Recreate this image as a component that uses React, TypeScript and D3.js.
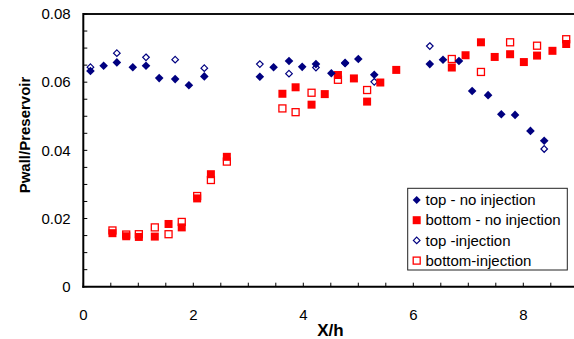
import React from "react";
import * as d3 from "d3";

// Station positions (X/h) and pressure ratios for each series
const topX = [0.13, 0.37, 0.61, 0.90, 1.14, 1.38, 1.67, 1.92, 2.20, 3.21, 3.46, 3.74, 3.98, 4.23, 4.51, 4.76, 5.00, 5.29, 6.30, 6.54, 6.83, 7.07, 7.36, 7.60, 7.85, 8.13, 8.38];
const topNoInj = [0.0633, 0.0648, 0.0658, 0.0644, 0.0648, 0.0612, 0.0609, 0.0591, 0.0617, 0.0616, 0.0644, 0.0662, 0.0645, 0.0653, 0.0626, 0.0657, 0.0668, 0.0622, 0.0653, 0.0666, 0.0662, 0.0574, 0.0562, 0.0506, 0.0504, 0.0457, 0.0428];

const bottomX = [0.53, 0.78, 1.01, 1.30, 1.55, 1.79, 2.07, 2.32, 2.61, 3.62, 3.86, 4.15, 4.39, 4.63, 4.92, 5.16, 5.40, 5.69, 6.70, 6.95, 7.23, 7.48, 7.76, 8.01, 8.25, 8.53, 8.78];
const bottomNoInj = [0.0157, 0.0148, 0.0146, 0.0147, 0.0184, 0.0174, 0.0259, 0.0330, 0.0381, 0.0566, 0.0585, 0.0534, 0.0565, 0.0621, 0.0611, 0.0543, 0.0599, 0.0636, 0.0643, 0.0679, 0.0717, 0.0674, 0.0682, 0.0659, 0.0678, 0.0692, 0.0712];

const topInjX = [0.13, 0.61, 1.14, 1.67, 2.20, 3.21, 3.74, 4.23, 4.76, 5.29, 6.30, 8.38];
const topInj = [0.0644, 0.0685, 0.0673, 0.0666, 0.0641, 0.0653, 0.0625, 0.0643, 0.0655, 0.0601, 0.0706, 0.0404];

const bottomInjX = [0.53, 0.78, 1.01, 1.30, 1.55, 1.79, 2.07, 2.32, 2.61, 3.62, 3.86, 4.15, 4.63, 5.16, 6.70, 7.23, 7.76, 8.25, 8.78];
const bottomInj = [0.0165, 0.0153, 0.0154, 0.0174, 0.0154, 0.0190, 0.0266, 0.0313, 0.0367, 0.0523, 0.0512, 0.0569, 0.0607, 0.0577, 0.0668, 0.0630, 0.0717, 0.0707, 0.0726];

const xTickLabels = [0, 2, 4, 6, 8];
const yTickLabels = [0, 0.02, 0.04, 0.06, 0.08];
const legendLabels = ["top - no injection", "bottom - no injection", "top -injection", "bottom-injection"];

const NAVY = "#000080";
const RED = "#ff0000";
const FONT = "'Liberation Sans', Arial, sans-serif";

const left = 83.3;
const top = 14;
const bottom = 286.7;
const x = d3.scaleLinear().domain([0, 9]).range([left, left + 9 * 55]);
const y = d3.scaleLinear().domain([0, 0.08]).range([bottom, top]);

const diamond = (cx: number, cy: number, r: number) =>
  `M${cx},${cy - r}L${cx + r},${cy}L${cx},${cy + r}L${cx - r},${cy}Z`;

export default function App() {
  const xMinor = d3.range(0, 9.01, 0.5);
  const yMinor = d3.range(0, 0.0801, 0.005);

  const legendMarker = (i: number, cx: number, cy: number) => {
    if (i === 0) return <path d={diamond(cx, cy, 4)} fill={NAVY} />;
    if (i === 1) return <rect x={cx - 4} y={cy - 4} width={8} height={8} fill={RED} />;
    if (i === 2) return <path d={diamond(cx, cy, 3.3)} fill="#fff" stroke={NAVY} strokeWidth={1.2} />;
    return <rect x={cx - 3.5} y={cy - 3.5} width={7} height={7} fill="#fff" stroke={RED} strokeWidth={1.3} />;
  };

  return (
    <svg
      width={574}
      height={339}
      style={{ position: "absolute", left: 0, top: 0, background: "#fff" }}
      fontFamily={FONT}
    >
      {/* frame */}
      <line x1={left} x2={x(9)} y1={top} y2={top} stroke="#111" strokeWidth={2} />
      <line x1={left} x2={left} y1={top - 1} y2={bottom + 1} stroke="#000" strokeWidth={2} />
      <line x1={left - 1} x2={x(9)} y1={bottom} y2={bottom} stroke="#000" strokeWidth={2} />

      {/* ticks */}
      {yMinor.map((v, i) => (
        <line key={"yt" + i} x1={left} x2={left + 4} y1={y(v)} y2={y(v)} stroke="#000" strokeWidth={1} />
      ))}
      {xMinor.map((v, i) => (
        <line key={"xt" + i} x1={x(v)} x2={x(v)} y1={bottom} y2={bottom - 4} stroke="#000" strokeWidth={1} />
      ))}

      {/* tick labels */}
      {yTickLabels.map((v) => (
        <text key={"yl" + v} x={70.7} y={y(v)} dy="0.35em" textAnchor="end" fontSize={15} fill="#000">
          {v === 0 ? "0" : v.toFixed(2)}
        </text>
      ))}
      {xTickLabels.map((v) => (
        <text key={"xl" + v} x={x(v)} y={319.5} textAnchor="middle" fontSize={15} fill="#000">
          {v}
        </text>
      ))}

      {/* axis titles */}
      <text
        transform="translate(30,135) rotate(-90)"
        textAnchor="middle"
        fontSize={15}
        fontWeight="bold"
        fill="#000"
      >
        Pwall/Preservoir
      </text>
      <text x={330.5} y={336} textAnchor="middle" fontSize={17} fontWeight="bold" fill="#000">
        X/h
      </text>

      {/* hollow markers underneath */}
      {bottomInjX.map((v, i) => (
        <rect
          key={"bi" + i}
          x={x(v) - 3.5}
          y={y(bottomInj[i]) - 3.5}
          width={7}
          height={7}
          fill="#fff"
          stroke={RED}
          strokeWidth={1.3}
        />
      ))}
      {topInjX.map((v, i) => (
        <path
          key={"ti" + i}
          d={diamond(x(v), y(topInj[i]), 3.3)}
          fill="#fff"
          stroke={NAVY}
          strokeWidth={1.2}
        />
      ))}

      {/* filled markers */}
      {bottomX.map((v, i) => (
        <rect key={"bn" + i} x={x(v) - 4} y={y(bottomNoInj[i]) - 4} width={8} height={8} fill={RED} />
      ))}
      {topX.map((v, i) => (
        <path key={"tn" + i} d={diamond(x(v), y(topNoInj[i]), 4.3)} fill={NAVY} />
      ))}

      {/* legend */}
      <rect x={407.7} y={188.3} width={159.6} height={81.7} fill="#fff" stroke="#222" strokeWidth={1} />
      {legendLabels.map((label, i) => {
        const cy = 200 + i * 20.2;
        return (
          <g key={label}>
            {legendMarker(i, 416.7, cy)}
            <text x={425.5} y={cy} dy="0.35em" fontSize={15} fill="#000">
              {label}
            </text>
          </g>
        );
      })}
    </svg>
  );
}
